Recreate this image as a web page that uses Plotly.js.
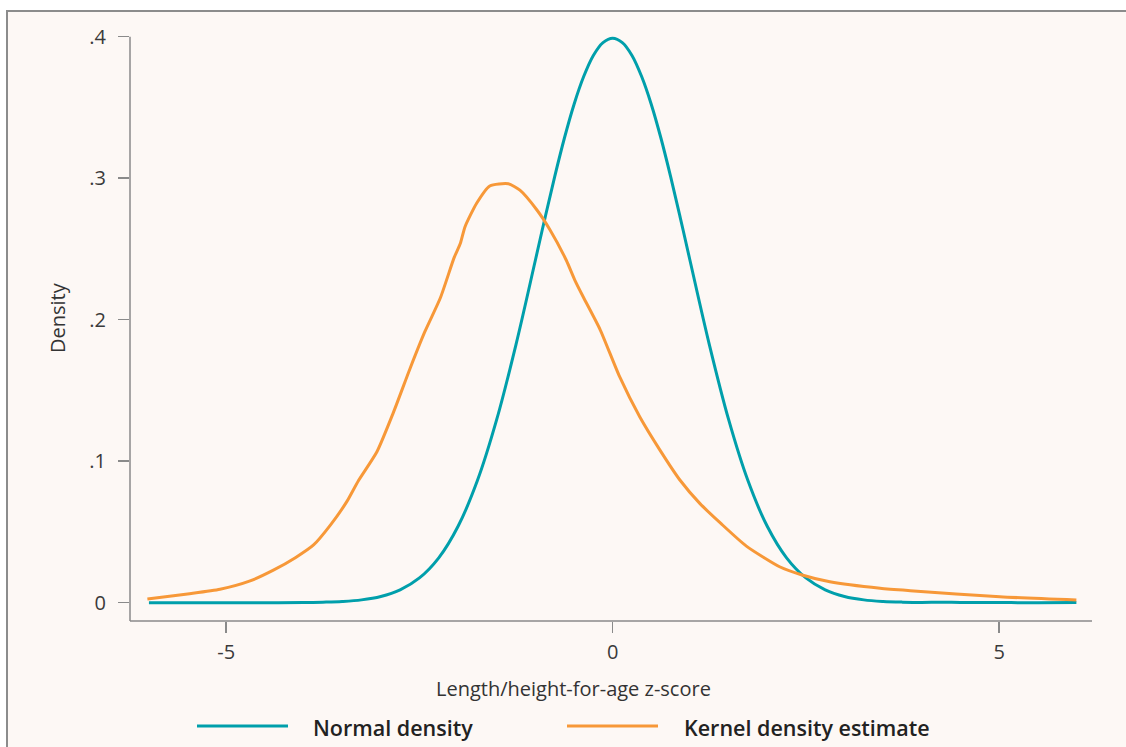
<!DOCTYPE html>
<html>
<head>
<meta charset="utf-8">
<script src="https://cdn.plot.ly/plotly-3.0.1.min.js"></script>
<style>
  html, body { margin: 0; padding: 0; background: #ffffff; }
  #wrap { position: relative; width: 1126px; height: 747px; overflow: hidden; background: #ffffff; }
  #frame { position: absolute; left: 6px; top: 10px; width: 1200px; height: 800px;
           background: #fdf8f5; border: 2px solid #8c8c8c; box-sizing: border-box; }
  #chart { position: absolute; left: 0; top: 0; width: 1126px; height: 747px; }
</style>
</head>
<body>
<div id="wrap">
  <div id="frame"></div>
  <div id="chart"></div>
</div>
<script>
// Normal density
const normX = [-6, -5.5, -5, -4.5, -4, -3.75, -3.5, -3.25, -3, -2.75, -2.5, -2.25, -2, -1.75, -1.5, -1.25, -1, -0.875, -0.75, -0.625, -0.5, -0.375, -0.25, -0.125, 0,
               0.125, 0.25, 0.375, 0.5, 0.625, 0.75, 0.875, 1, 1.25, 1.5, 1.75, 2, 2.25, 2.5, 2.75, 3, 3.25, 3.5, 3.75, 4, 4.25, 4.5, 5, 5.5, 6];
const normY = [0, 0, 0, 0, 0.0001, 0.0004, 0.0009, 0.0020, 0.0044, 0.0091, 0.0175, 0.0317, 0.0540, 0.0863, 0.1295, 0.1826, 0.2420, 0.2720, 0.3011, 0.3282, 0.3521, 0.3718, 0.3867, 0.3958, 0.3989,
               0.3958, 0.3867, 0.3718, 0.3521, 0.3282, 0.3011, 0.2720, 0.2420, 0.1826, 0.1295, 0.0863, 0.0540, 0.0317, 0.0175, 0.0091, 0.0044, 0.0020, 0.0009, 0.0004, 0.0002, 0.0004, 0.0002, 0.0001, 0, 0.0001];

// Kernel density estimate
const kdeX = [-6.02, -5.5, -5.08, -4.7, -4.39, -4.1, -3.87, -3.65, -3.44, -3.29, -3.05, -2.84, -2.62, -2.43, -2.23, -2.05, -1.97, -1.91, -1.76, -1.59, -1.35, -1.20, -0.98, -0.81, -0.60, -0.49, -0.38, -0.16, 0.09, 0.35, 0.61, 0.87, 1.13, 1.40, 1.73, 2.16, 2.45, 2.81, 3.46, 3.85, 5.01, 6.0];
const kdeY = [0.0026, 0.0062, 0.0095, 0.0152, 0.0230, 0.0320, 0.0408, 0.0550, 0.0714, 0.0862, 0.1067, 0.1340, 0.1657, 0.1915, 0.2153, 0.2440, 0.2540, 0.2657, 0.2823, 0.2945, 0.2960, 0.2915, 0.2775, 0.2634, 0.2420, 0.2280, 0.2160, 0.1927, 0.1597, 0.1314, 0.1080, 0.0867, 0.0700, 0.0560, 0.0400, 0.0254, 0.0196, 0.0148, 0.0102, 0.0085, 0.0042, 0.0019];

const yTickVals = [0, 0.1, 0.2, 0.3, 0.4];
const yTickText = ['0', '.1', '.2', '.3', '.4'];
const xTickVals = [-5, 0, 5];
const xTickText = ['-5', '0', '5'];

const seriesNames = ['Normal density', 'Kernel density estimate'];
const colors = ['#009fab', '#f79838'];

const FONT = '"Open Sans", "Noto Sans", sans-serif';

const traces = [
  { x: normX, y: normY, type: 'scatter', mode: 'lines', name: seriesNames[0],
    line: { color: colors[0], width: 3, shape: 'spline', smoothing: 1 }, hoverinfo: 'x+y' },
  { x: kdeX, y: kdeY, type: 'scatter', mode: 'lines', name: seriesNames[1],
    line: { color: colors[1], width: 3, shape: 'spline', smoothing: 0.6 }, hoverinfo: 'x+y' }
];

const L = 130, R = 34, T = 30, B = 126;
const W = 1126, H = 747;
const pw = W - L - R, ph = H - T - B;
const px = v => (v - L) / pw;
const py = v => (H - B - v) / ph;

const layout = {
  width: W, height: H,
  margin: { l: L, r: R, t: T, b: B, pad: 0 },
  paper_bgcolor: 'rgba(0,0,0,0)',
  plot_bgcolor: 'rgba(0,0,0,0)',
  showlegend: false,
  font: { family: FONT, color: '#3a3a3a' },
  xaxis: {
    range: [-6.245, 6.202],
    showgrid: false, zeroline: false, showline: false,
    ticks: 'outside', ticklen: 11, tickwidth: 1.5, tickcolor: '#8a8a8a',
    tickvals: xTickVals, ticktext: xTickText,
    tickfont: { family: FONT, size: 20, color: '#3a3a3a' },
    ticklabelstandoff: 2
  },
  yaxis: {
    range: [-0.01293, 0.4047],
    showgrid: false, zeroline: false, showline: false,
    ticks: 'outside', ticklen: 11, tickwidth: 1.5, tickcolor: '#8a8a8a',
    tickvals: yTickVals, ticktext: yTickText,
    tickfont: { family: FONT, size: 20, color: '#3a3a3a' },
    ticklabelstandoff: 8
  },
  shapes: [
    { type: 'line', xref: 'paper', yref: 'y', x0: 0, x1: 0, y0: -0.01293, y1: 0.4,
      line: { color: '#8a8a8a', width: 1.5 } },
    { type: 'line', xref: 'x', yref: 'paper', x0: -6.387, x1: 6.202, y0: 0, y1: 0,
      line: { color: '#8a8a8a', width: 1.5 } },
    { type: 'line', xref: 'paper', yref: 'paper', x0: px(197), x1: px(288), y0: py(726), y1: py(726),
      line: { color: colors[0], width: 3 } },
    { type: 'line', xref: 'paper', yref: 'paper', x0: px(567), x1: px(658), y0: py(726), y1: py(726),
      line: { color: colors[1], width: 3 } }
  ],
  annotations: [
    { text: 'Length/height-for-age z-score', xref: 'paper', yref: 'paper', x: px(573), y: py(688),
      xanchor: 'center', yanchor: 'middle', showarrow: false,
      font: { family: FONT, size: 20, color: '#333333' } },
    { text: 'Density', xref: 'paper', yref: 'paper', x: px(57), y: py(318), textangle: -90,
      xanchor: 'center', yanchor: 'middle', showarrow: false,
      font: { family: FONT, size: 20, color: '#333333' } },
    { text: seriesNames[0], xref: 'paper', yref: 'paper', x: px(311), y: py(727),
      xanchor: 'left', yanchor: 'middle', showarrow: false,
      font: { family: FONT, size: 21.5, color: '#222222', weight: 600 } },
    { text: seriesNames[1], xref: 'paper', yref: 'paper', x: px(682), y: py(727),
      xanchor: 'left', yanchor: 'middle', showarrow: false,
      font: { family: FONT, size: 21.5, color: '#222222', weight: 600 } }
  ]
};

Plotly.newPlot('chart', traces, layout, { displayModeBar: false, staticPlot: true });
</script>
</body>
</html>
